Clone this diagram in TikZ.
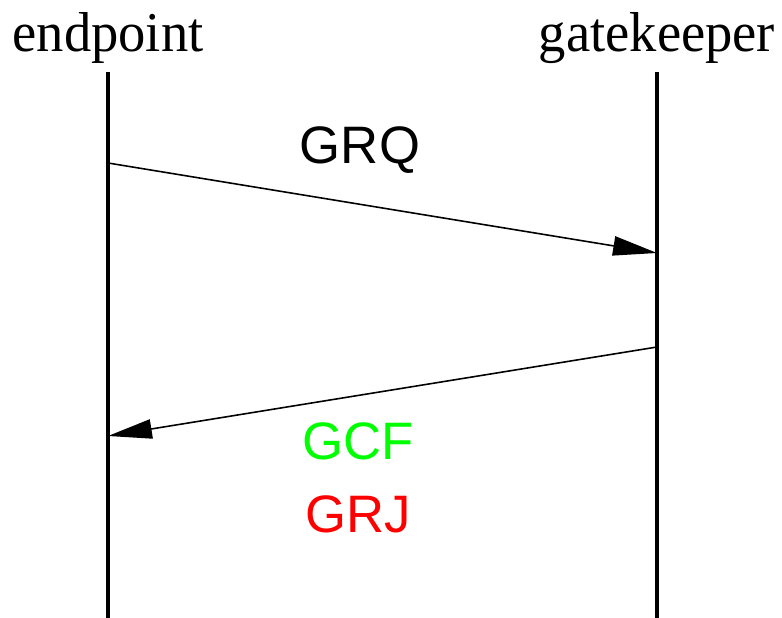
\documentclass[tikz,border=0pt]{standalone}
\usepackage{fontspec}
\setmainfont{Liberation Serif}
\setsansfont{Liberation Sans}
\usetikzlibrary{arrows.meta}
\tikzset{
  lifeline/.style={line width=2.3pt},
  msgarrow/.style={line width=0.9pt,-{Triangle[length=25pt,width=11pt]}},
  partylabel/.style={font=\fontsize{32}{36}\selectfont,anchor=base,inner sep=0pt},
  msglabel/.style={font=\sffamily\fontsize{30}{34}\selectfont,anchor=base,inner sep=0pt}
}
\begin{document}
\begin{tikzpicture}[x=0.02cm,y=-0.02cm]
\useasboundingbox (0,0) rectangle (782,618);
\node[partylabel,xscale=0.97] (ep) at (108,52) {endpoint};
\node[partylabel,xscale=0.97] (gk) at (657,52) {gatekeeper};
\foreach \p/\x in {ep/108,gk/657}{\coordinate (\p top) at (\x,72);\coordinate (\p bot) at (\x,618);\draw[lifeline] (\p top)--(\p bot);}
\coordinate (grqa) at (108,163); \coordinate (grqb) at (657,253);
\coordinate (gcfa) at (657,347); \coordinate (gcfb) at (108,436);
\draw[msgarrow] (grqa)--(grqb);
\draw[msgarrow] (gcfa)--(gcfb);
\node[msglabel] (grq) at (360,164) {GRQ};
\node[msglabel,text={rgb,255:red,0;green,255;blue,0}] (gcf) at (358,460) {GCF};
\node[msglabel,text=red] (grj) at (358,533) {GRJ};
\end{tikzpicture}
\end{document}
